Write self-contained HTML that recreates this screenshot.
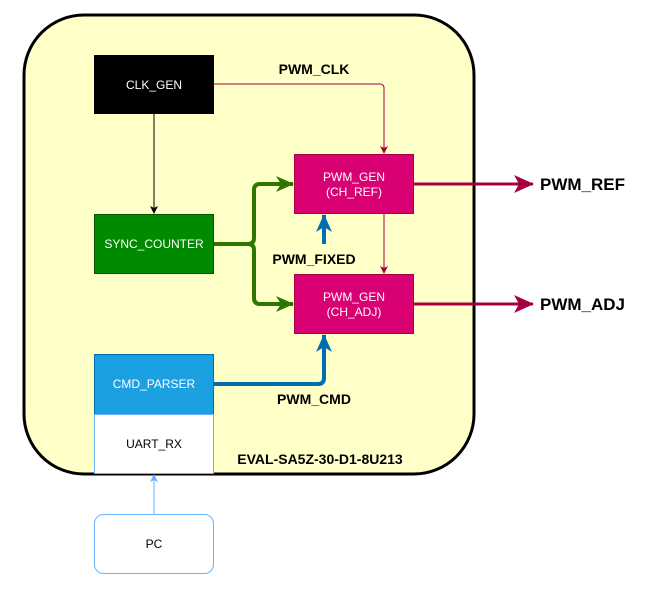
<!DOCTYPE html>
<html><head><style>body{margin:0;background:#fff}</style></head><body>
<svg width="664" height="591" viewBox="0 0 664 591" xmlns="http://www.w3.org/2000/svg" font-family="Liberation Sans, Arial, sans-serif">
<defs>
<marker id="ab" markerWidth="8" markerHeight="8" refX="7" refY="4" orient="auto" markerUnits="userSpaceOnUse"><path d="M0,0 L8,4 L0,8 L2,4 Z" fill="#000"/></marker>
<marker id="ar" markerWidth="8" markerHeight="8" refX="7" refY="4" orient="auto" markerUnits="userSpaceOnUse"><path d="M0,0 L8,4 L0,8 L2,4 Z" fill="#A50040"/></marker>
<marker id="ar2" markerWidth="20" markerHeight="18" refX="19" refY="9" orient="auto" markerUnits="userSpaceOnUse"><path d="M0,0 L20,9 L0,18 L5,9 Z" fill="#A50040"/></marker>
<marker id="ag" markerWidth="18" markerHeight="16" refX="17" refY="8" orient="auto" markerUnits="userSpaceOnUse"><path d="M0,0 L18,8 L0,16 L5,8 Z" fill="#2D7600"/></marker>
<marker id="abl" markerWidth="18" markerHeight="16" refX="17" refY="8" orient="auto" markerUnits="userSpaceOnUse"><path d="M0,0 L18,8 L0,16 L5,8 Z" fill="#006EAF"/></marker>
<marker id="alb" markerWidth="8" markerHeight="8" refX="7" refY="4" orient="auto" markerUnits="userSpaceOnUse"><path d="M0,0 L8,4 L0,8 L2,4 Z" fill="#66B2FF"/></marker>
</defs>
<rect x="24" y="15" width="450" height="459" rx="60" fill="#FFFFC8" stroke="#000" stroke-width="3"/>
<path d="M214,84 H380 Q384,84 384,88 V153" fill="none" stroke="#A50040" stroke-width="1" marker-end="url(#ar)"/>
<path d="M384,214 V273" fill="none" stroke="#A50040" stroke-width="1" marker-end="url(#ar)"/>
<path d="M154,114 V213" fill="none" stroke="#000" stroke-width="1" marker-end="url(#ab)"/>
<path d="M214,244 H248 Q254,244 254,238 V190 Q254,184 260,184 H293" fill="none" stroke="#2D7600" stroke-width="4" marker-end="url(#ag)"/>
<path d="M248,244 Q254,244 254,250 V298 Q254,304 260,304 H293" fill="none" stroke="#2D7600" stroke-width="4" marker-end="url(#ag)"/>
<path d="M324,244 V215" fill="none" stroke="#006EAF" stroke-width="4" marker-end="url(#abl)"/>
<path d="M214,384 H318 Q324,384 324,378 V335" fill="none" stroke="#006EAF" stroke-width="4" marker-end="url(#abl)"/>
<path d="M414,184 H533" fill="none" stroke="#A50040" stroke-width="3" marker-end="url(#ar2)"/>
<path d="M414,304 H533" fill="none" stroke="#A50040" stroke-width="3" marker-end="url(#ar2)"/>
<path d="M154,514 V475" fill="none" stroke="#66B2FF" stroke-width="1" marker-end="url(#alb)"/>
<rect x="94" y="55" width="120" height="59" fill="#000"/>
<text x="154" y="89" text-anchor="middle" font-size="12" fill="#fff">CLK_GEN</text>
<rect x="94.5" y="214.5" width="119" height="59" fill="#008A00" stroke="#005700"/>
<text x="154" y="248" text-anchor="middle" font-size="12" fill="#fff">SYNC_COUNTER</text>
<rect x="294.5" y="154.5" width="119" height="59" fill="#D80073" stroke="#A50040"/>
<text x="354" y="181" text-anchor="middle" font-size="12" fill="#fff">PWM_GEN</text>
<text x="354" y="196" text-anchor="middle" font-size="12" fill="#fff">(CH_REF)</text>
<rect x="294.5" y="274.5" width="119" height="59" fill="#D80073" stroke="#A50040"/>
<text x="354" y="301" text-anchor="middle" font-size="12" fill="#fff">PWM_GEN</text>
<text x="354" y="316" text-anchor="middle" font-size="12" fill="#fff">(CH_ADJ)</text>
<rect x="94.5" y="354.5" width="119" height="60" fill="#1BA1E2" stroke="#006EAF"/>
<text x="154" y="388" text-anchor="middle" font-size="12" fill="#fff">CMD_PARSER</text>
<rect x="94.5" y="414.5" width="119" height="59" fill="#fff" stroke="#66B2FF"/>
<text x="154" y="448" text-anchor="middle" font-size="12" fill="#000">UART_RX</text>
<rect x="94.5" y="514.5" width="119" height="59" rx="9" fill="#fff" stroke="#66B2FF"/>
<text x="154" y="548" text-anchor="middle" font-size="12" fill="#000">PC</text>
<g font-weight="bold" font-size="14" fill="#000">
<text x="314" y="74" text-anchor="middle">PWM_CLK</text>
<text x="314" y="264" text-anchor="middle">PWM_FIXED</text>
<text x="314" y="404" text-anchor="middle">PWM_CMD</text>
<text x="320" y="464" text-anchor="middle">EVAL-SA5Z-30-D1-8U213</text>
<text x="540" y="190" font-size="17">PWM_REF</text>
<text x="540" y="310" font-size="17">PWM_ADJ</text>
</g>
</svg>
</body></html>
